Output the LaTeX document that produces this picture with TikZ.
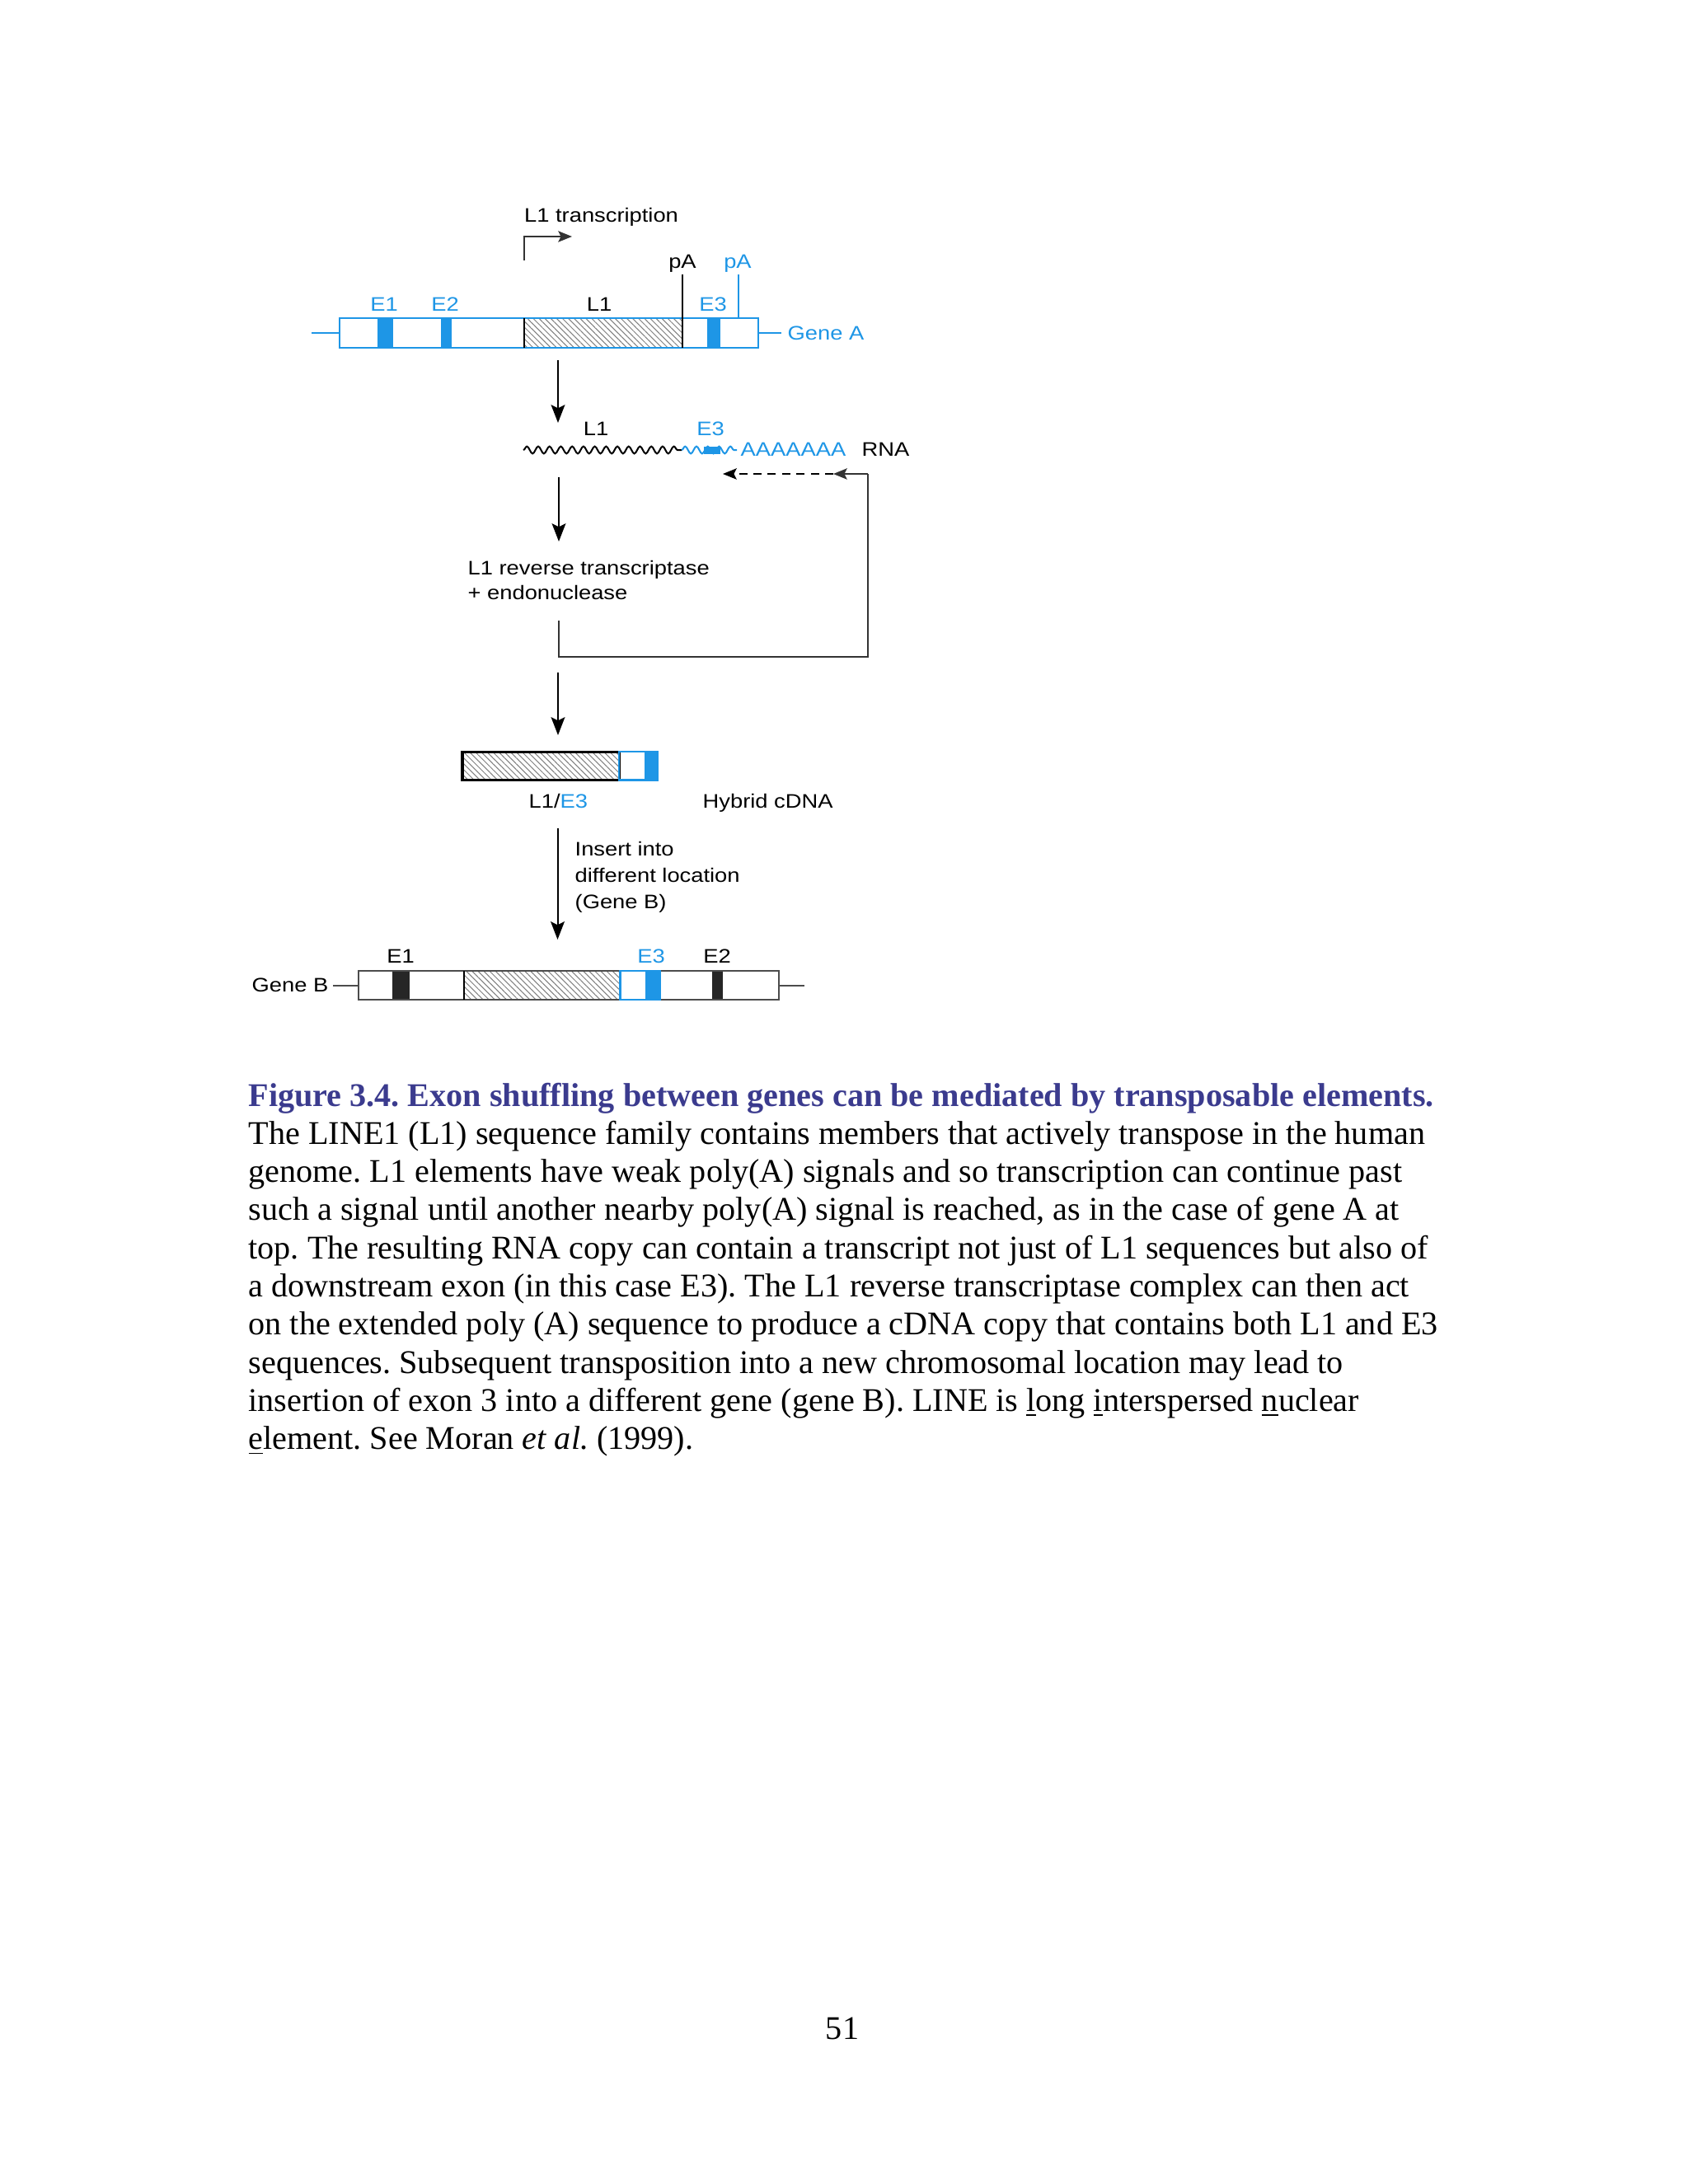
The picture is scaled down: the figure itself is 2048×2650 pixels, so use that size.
\documentclass[tikz,border=0pt]{standalone}
\usepackage{fontspec}
\setmainfont{Liberation Serif}
\newfontfamily\dsans[FakeStretch=1.15]{Liberation Sans}
\usetikzlibrary{patterns.meta,decorations.pathmorphing,arrows.meta}
\definecolor{dblue}{HTML}{1E96E6}
\definecolor{capblue}{HTML}{3B3B8E}
\tikzset{
  lbl/.style={font=\dsans\fontsize{7.1}{9.6}\selectfont, inner sep=0pt, text=black},
  blbl/.style={lbl, text=dblue},
  capline/.style={font=\fontsize{12}{13.9}\selectfont\frenchspacing, inner sep=0pt, anchor=base west},
  arr/.style={-{Stealth[length=6.5pt,width=5pt,inset=1.2pt]}, line width=0.6pt},
  smallarr/.style={-{Stealth[length=5pt,width=4pt,inset=1pt]}, line width=0.6pt},
  hatch/.style={pattern={Lines[angle=-45,distance=1.5pt,line width=0.3pt]}, pattern color=black!50},
  wave/.style={decorate, decoration={snake, amplitude=1.3pt, segment length=4.1pt}, line width=0.6pt},
}
\begin{document}
\begin{tikzpicture}[x=0.29883pt,y=-0.29883pt]
\useasboundingbox (0,0) rectangle (2048,2650);
\fill[white] (0,0) rectangle (2048,2650);

% ---------- Gene A ----------
\fill[dblue] (458,386) rectangle (477,422);
\fill[dblue] (534.5,386) rectangle (547.5,422);
\fill[dblue] (858,386) rectangle (874,422);
\fill[hatch] (635.5,386) rectangle (827.5,422);
\draw[dblue, line width=0.8pt] (412,386) rectangle (920,422);
\coordinate (gaL0) at (378,404); \coordinate (gaL1) at (412,404);
\coordinate (gaR0) at (920,404); \coordinate (gaR1) at (948,404);
\draw[dblue, line width=0.7pt] (gaL0) -- (gaL1) (gaR0) -- (gaR1);
\draw[black, line width=0.6pt] (635.5,386) -- (635.5,422);
\coordinate (pa1top) at (827.5,333); \coordinate (pa1bot) at (827.5,422);
\draw[black, line width=0.6pt] (pa1top) -- (pa1bot);
\coordinate (pa2top) at (896,333); \coordinate (pa2bot) at (896,386);
\draw[dblue, line width=0.6pt] (pa2top) -- (pa2bot);

\node[lbl, anchor=base west] (ltr) at (635.5,269) {L1 transcription};
\coordinate (prA) at (636,316); \coordinate (prB) at (636,287); \coordinate (prC) at (694,287);
\draw[smallarr, black!80] (prA) -- (prB) -- (prC);
\node[lbl, anchor=base] (pa1) at (828,325) {pA};
\node[blbl, anchor=base] (pa2) at (895,325) {pA};
\node[blbl, anchor=base] (ae1) at (466,377) {E1};
\node[blbl, anchor=base] (ae2) at (540,377) {E2};
\node[lbl, anchor=base] (al1) at (727,377) {L1};
\node[blbl, anchor=base] (ae3) at (865,377) {E3};
\node[blbl, anchor=base west] (geneA) at (955,412.5) {Gene A};

% ---------- arrow 1 ----------
\coordinate (a1s) at (677,437); \coordinate (a1e) at (677,513);
\draw[arr] (a1s) -- (a1e);

% ---------- RNA ----------
\node[lbl, anchor=base] (rl1) at (723,528) {L1};
\node[blbl, anchor=base] (re3) at (862,528) {E3};
\coordinate (w0) at (635,546); \coordinate (w1) at (827,546); \coordinate (w2) at (894,546);
\draw[wave] (w0) -- (w1);
\draw[wave, dblue] (w1) -- (w2);
\fill[dblue] (854,541.5) rectangle (874,550.5);
\node[blbl, anchor=base west] (polyA) at (898,553) {AAAAAAA};
\node[lbl, anchor=base west] (rna) at (1045,553) {RNA};

% ---------- feedback loop ----------
\coordinate (d0) at (1053,575); \coordinate (d1) at (1011,575); \coordinate (d2) at (877,575);
\coordinate (f0) at (678,753); \coordinate (f1) at (678,797); \coordinate (f2) at (1053,797);
\draw[line width=0.6pt, black!80] (f0) -- (f1) -- (f2) -- (d0);
\draw[smallarr, black!80] (d0) -- (d1);
\draw[smallarr, dashed, dash pattern=on 3pt off 2.2pt] (d1) -- (d2);

% ---------- arrow 2 ----------
\coordinate (a2s) at (678,579); \coordinate (a2e) at (678,657);
\draw[arr] (a2s) -- (a2e);
\node[lbl, anchor=base west] (rt1) at (567,697) {L1 reverse transcriptase};
\node[lbl, anchor=base west] (rt2) at (567,727) {+ endonuclease};

% ---------- arrow 3 ----------
\coordinate (a3s) at (677,816); \coordinate (a3e) at (677,892);
\draw[arr] (a3s) -- (a3e);

% ---------- cDNA ----------
\fill[hatch] (561,912) rectangle (751,946.7);
\draw[black, line width=0.9pt] (561,912) rectangle (751,946.7);
\fill[dblue] (782,912) rectangle (798,946.7);
\draw[dblue, line width=0.8pt] (751,912) rectangle (798,946.7);
\node[lbl, anchor=base west] (cl) at (641,980) {L1/\textcolor{dblue}{E3}};
\node[lbl, anchor=base west] (hyb) at (852,980) {Hybrid cDNA};

% ---------- arrow 4 ----------
\coordinate (a4s) at (676.5,1005); \coordinate (a4e) at (676.5,1140);
\draw[arr] (a4s) -- (a4e);
\node[lbl, anchor=base west] (ins1) at (697,1038) {Insert into};
\node[lbl, anchor=base west] (ins2) at (697,1070) {different location};
\node[lbl, anchor=base west] (ins3) at (697,1102) {(Gene B)};

% ---------- Gene B ----------
\fill[black!85] (476,1178) rectangle (497,1213);
\fill[hatch] (562.6,1178) rectangle (752.6,1213);
\fill[dblue] (783,1178) rectangle (801,1213);
\fill[black!85] (864,1178) rectangle (877,1213);
\draw[black!70, line width=0.8pt] (435,1178) rectangle (945,1213);
\draw[dblue, line width=0.8pt] (752.6,1178) rectangle (801,1213);
\draw[black, line width=0.6pt] (562.6,1178) -- (562.6,1213);
\coordinate (gbL0) at (404,1196); \coordinate (gbL1) at (435,1196);
\coordinate (gbR0) at (945,1196); \coordinate (gbR1) at (976,1196);
\draw[black!70, line width=0.7pt] (gbL0) -- (gbL1) (gbR0) -- (gbR1);
\node[lbl, anchor=base east] (geneB) at (399,1203) {Gene B};
\node[lbl, anchor=base] (be1) at (486,1168) {E1};
\node[blbl, anchor=base] (be3) at (790,1168) {E3};
\node[lbl, anchor=base] (be2) at (870,1168) {E2};

% ---------- caption ----------
\node[capline, text=capblue] (c1) at (301,1342) {\textbf{Figure 3.4. Exon shuffling between genes can be mediated by transposable elements.}};
\node[capline] (c2) at (301,1388.3) {The LINE1 (L1) sequence family contains members that actively transpose in the human};
\node[capline] (c3) at (301,1434.6) {genome. L1 elements have weak poly(A) signals and so transcription can continue past};
\node[capline] (c4) at (301,1480.9) {such a signal until another nearby poly(A) signal is reached, as in the case of gene A at};
\node[capline] (c5) at (301,1527.2) {top. The resulting RNA copy can contain a transcript not just of L1 sequences but also of};
\node[capline] (c6) at (301,1573.5) {a downstream exon (in this case E3). The L1 reverse transcriptase complex can then act};
\node[capline] (c7) at (301,1619.8) {on the extended poly (A) sequence to produce a cDNA copy that contains both L1 and E3};
\node[capline] (c8) at (301,1666.1) {sequences. Subsequent transposition into a new chromosomal location may lead to};
\node[capline] (c9) at (301,1712.4) {insertion of exon 3 into a different gene (gene B). LINE is \underline{l}ong \underline{i}nterspersed \underline{n}uclear};
\node[capline] (c10) at (301,1758.7) {\underline{e}lement. See Moran \textit{et al.} (1999).};

\node[font=\fontsize{12}{14}\selectfont, inner sep=0pt, anchor=base] (pg) at (1022,2474) {51};
\end{tikzpicture}
\end{document}
